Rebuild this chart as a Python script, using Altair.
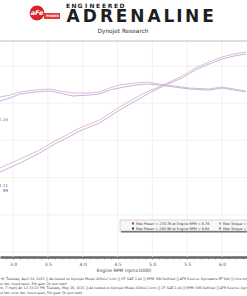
import altair as alt
import pandas as pd

# ---- data ----
rpm_power = [2.814, 3.10, 3.385, 3.60, 3.743, 3.957, 4.243, 4.528, 4.857, 4.957, 5.185, 5.428, 5.643, 5.814, 6.00, 6.171, 6.343]
power_run1 = [112.9, 125.0, 137.1, 149.2, 155.9, 166.7, 177.4, 194.9, 212.4, 216.4, 225.8, 236.5, 248.6, 255.4, 262.1, 266.1, 268.8]
power_run2 = [107.5, 119.6, 133.1, 145.2, 151.9, 162.6, 173.4, 190.8, 208.3, 213.7, 224.4, 233.9, 246.0, 252.7, 259.4, 263.4, 266.1]

rpm_torque = [2.814, 2.957, 3.10, 3.314, 3.528, 3.671, 3.857, 4.10, 4.243, 4.385, 4.528, 4.743, 4.928, 5.10, 5.314, 5.528, 5.814, 6.00, 6.171, 6.343]
torque_run1 = [208.3, 211.0, 215.0, 217.7, 219.1, 216.4, 213.7, 213.7, 215.0, 220.4, 224.4, 227.1, 228.5, 225.8, 223.1, 220.4, 219.1, 221.8, 219.1, 216.4]
torque_run2 = [202.9, 207.0, 212.4, 215.0, 216.4, 213.7, 209.7, 211.0, 212.4, 217.7, 220.4, 224.4, 225.8, 224.4, 221.8, 219.1, 217.7, 220.4, 217.7, 215.0]

x_grid = [3.0, 3.5, 4.0, 4.5, 5.0, 5.5, 6.0]
y_grid = [0, 50, 100, 150, 200, 250]
x_ticks = [round(2.9 + 0.1 * i, 1) for i in range(35)]

legend_row1 = ["Max Power = 270.76 at Engine RPM = 6.76", "Max Torque = 228.54 at Engine RPM = 4.93"]
legend_row2 = ["Max Power = 265.96 at Engine RPM = 6.68", "Max Torque = 225.80 at Engine RPM = 4.93"]
footer_lines = [
    "M, Tuesday, April 20, 2021 ]] As tested on Dynojet Model 424xLC Lnrs ]] CF: SAE 1.00 ]] RPM: SW Defined ]] AFR Source: Dynoware RT 900 ]] Line smoothing: 5",
    "er fan, hood open, 5th gear 2k rpm start",
    "m, 7 mph] At: 12:33:22 PM, Tuesday, May 18, 2021 ]] As tested on Dynojet Model 424xLC Lnrs ]] CF: SAE 1.00 ]] RPM: SW Defined ]] AFR Source: Dynoware RT",
    "ol fan, oner fan, hood open, 5th gear 2k rpm start",
]

C1 = "#dfb3c0"
C2 = "#b6b0dc"

rows = []
for r, v in zip(rpm_power, power_run1):
    rows.append({"rpm": r, "val": v, "series": "p1"})
for r, v in zip(rpm_power, power_run2):
    rows.append({"rpm": r, "val": v, "series": "p2"})
for r, v in zip(rpm_torque, torque_run1):
    rows.append({"rpm": r, "val": v, "series": "t1"})
for r, v in zip(rpm_torque, torque_run2):
    rows.append({"rpm": r, "val": v, "series": "t2"})
df = pd.DataFrame(rows)

xs = alt.Scale(domain=[2.814, 6.357], nice=False, zero=False)
ys = alt.Scale(domain=[-6.7, 283.6], nice=False, zero=False)

x_axis = alt.Axis(values=x_ticks, grid=False, domainColor="#666", domainWidth=2.5,
                  tickColor="#777", tickSize=2, tickWidth=0.6,
                  labelExpr="abs(round(datum.value*10) % 5) == 0 ? format(datum.value, '.1f') : ''",
                  labelFontSize=4.5, labelColor="#555", labelPadding=2, labelFont="DejaVu Sans",
                  title="Engine RPM (rpmx1000)", titleFontSize=4.5, titleFontWeight="normal",
                  titleColor="#444", titlePadding=2, titleFont="DejaVu Sans")

lines = alt.Chart(df).mark_line(strokeWidth=0.9, clip=True).encode(
    x=alt.X("rpm:Q", scale=xs, axis=x_axis),
    y=alt.Y("val:Q", scale=ys, axis=None),
    color=alt.Color("series:N", scale=alt.Scale(domain=["p1", "p2", "t1", "t2"], range=[C1, C2, C1, C2]), legend=None),
    detail="series:N",
)

vgrid = alt.Chart(pd.DataFrame({"g": x_grid})).mark_rule(color="#eeeeee", strokeWidth=0.8).encode(
    x=alt.X("g:Q", scale=xs, axis=x_axis))
hgrid = alt.Chart(pd.DataFrame({"g": y_grid})).mark_rule(color="#eeeeee", strokeWidth=0.8).encode(
    y=alt.Y("g:Q", scale=ys, axis=None))

one = pd.DataFrame({"a": [0]})
topborder = alt.Chart(one).mark_rule(color="#bdbdbd", strokeWidth=1.2).encode(
    x=alt.value(0), x2=alt.value(247), y=alt.value(0))


def txt(s, x, y, size, color="#333", align="left", weight="normal", style="normal", baseline="middle"):
    return alt.Chart(pd.DataFrame({"t": [s]})).mark_text(
        align=align, baseline=baseline, fontSize=size, color=color, fontWeight=weight,
        font="DejaVu Sans", fontStyle=style).encode(text="t:N", x=alt.value(x), y=alt.value(y))


# header
logo_circle = alt.Chart(one).mark_circle(size=220, color="#d6262c", opacity=1).encode(
    x=alt.value(37), y=alt.value(-28))
logo_banner = alt.Chart(one).mark_rect(color="#e03a3a").encode(
    x=alt.value(44), x2=alt.value(60), y=alt.value(-28), y2=alt.value(-22))
header = [
    logo_banner, logo_circle,
    txt("aFe", 37, -28, 6.5, "white", "center", "bold", "italic"),
    txt("POWER", 52.5, -25, 3, "white", "center", "bold"),
    txt("Dynojet Research", 123, -10.5, 5.8, "#333", "center"),
]
for i, ch in enumerate("ENGINEERED"):
    header.append(txt(ch, 68 + 6.0 * i, -33.5, 6.0, "#222", "center", "bold", baseline="alphabetic"))
adr_centers = [73.0, 89.7, 106.5, 121.6, 137.4, 154.2, 169.0, 179.5, 192.1, 208.0]
for cx, ch in zip(adr_centers, "ADRENALINE"):
    header.append(txt(ch, cx, -19, 17, "#1e1e1e", "center", "bold", baseline="alphabetic"))

side = [
    txt("1.06", 8, 79, 4, "#8a7fc0", "right"),
    txt("1.11", 8, 145, 4, "#c04050", "right"),
    txt(".99", 8, 150, 4, "#4040a0", "right"),
]

lg_shadow = alt.Chart(one).mark_rect(color="#666").encode(
    x=alt.value(121), x2=alt.value(250), y=alt.value(189.5), y2=alt.value(191.5))
lg_box = alt.Chart(one).mark_rect(fill="#f7f7f7", stroke="#aaa", strokeWidth=0.5).encode(
    x=alt.value(120), x2=alt.value(250), y=alt.value(179), y2=alt.value(190))


def sq(x, y, c):
    return alt.Chart(one).mark_square(size=4, color=c, opacity=1).encode(x=alt.value(x), y=alt.value(y))


legend = [
    lg_shadow, lg_box,
    sq(133, 182.5, "#c0303a"), txt(legend_row1[0], 136, 182.5, 3.4, "#333"),
    sq(220, 182.5, "#d88a9a"), txt(legend_row1[1], 223, 182.5, 3.4, "#333"),
    sq(133, 187.5, "#2a2ab0"), txt(legend_row2[0], 136, 187.5, 3.4, "#333"),
    sq(220, 187.5, "#8080d0"), txt(legend_row2[1], 223, 187.5, 3.4, "#333"),
]

footer = [
    txt(footer_lines[0], 1, 238, 3.3, "#444"),
    txt(footer_lines[1], 0, 242.5, 3.3, "#444"),
    txt(footer_lines[2], 0, 247, 3.3, "#444"),
    txt(footer_lines[3], 0, 251.5, 3.3, "#444"),
]

chart = alt.layer(vgrid, hgrid, topborder, lines, *side, *legend, *header, *footer).properties(
    width=247, height=216,
    padding={"left": 0, "top": 41, "right": 0, "bottom": 39},
    autosize=alt.AutoSizeParams(type="none"),
    background="white",
).configure_view(stroke=None)

chart.save("out.html", embed_options={"renderer": "svg", "actions": False})
